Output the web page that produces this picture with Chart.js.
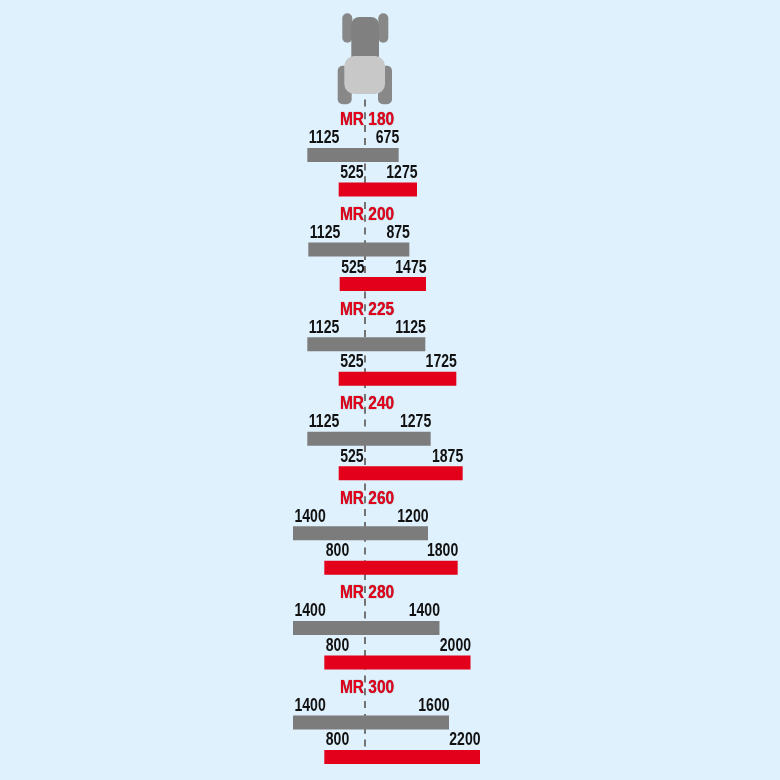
<!DOCTYPE html>
<html>
<head>
<meta charset="utf-8">
<style>
  html, body { margin: 0; padding: 0; background: #dff1fc; overflow: hidden; height: 780px; }
  #wrap { width: 780px; height: 787px; }
</style>
<script src="https://cdn.jsdelivr.net/npm/chart.js@4/dist/chart.umd.min.js"></script>
</head>
<body>
<div id="wrap"><canvas id="widths"></canvas></div>
<script>
const models = ['MR 180', 'MR 200', 'MR 225', 'MR 240', 'MR 260', 'MR 280', 'MR 300'];

// printed numbers
const grayLeftLabels = ['1125', '1125', '1125', '1125', '1400', '1400', '1400'];
const grayRightLabels = ['675', '875', '1125', '1275', '1200', '1400', '1600'];
const redLeftLabels = ['525', '525', '525', '525', '800', '800', '800'];
const redRightLabels = ['1275', '1475', '1725', '1875', '1800', '2000', '2200'];

// bar ends (mm from the centre line)
const grayLeft = [-1096, -1077, -1096, -1096, -1368, -1368, -1368];
const grayRight = [640, 842, 1146, 1248, 1197, 1415, 1596];
const redLeft = [-500, -481, -500, -500, -773, -773, -773];
const redRight = [988, 1159, 1735, 1856, 1761, 2005, 2185];

const GRAY = '#7c7c7c';
const RED = '#e2001a';
const TEXT_FONT = 'bold 18px "Liberation Sans"';

function roundBox(ctx, x, y, w, h, r, color) {
  ctx.fillStyle = color;
  ctx.beginPath();
  ctx.roundRect(x, y, w, h, r);
  ctx.fill();
}

// no condensed face installed, so squeeze the regular one
function narrowText(ctx, text, x, y, squeeze) {
  ctx.save();
  ctx.translate(x, y);
  ctx.scale(squeeze, 1);
  ctx.fillText(text, 0, 0);
  ctx.restore();
}

// tractor seen from above + centre line, under the bars
const tractorPlugin = {
  id: 'tractor',
  beforeDatasetsDraw(chart) {
    const ctx = chart.ctx;
    const cx = chart.scales.x.getPixelForValue(0);
    ctx.save();
    ctx.strokeStyle = '#737373';
    ctx.lineWidth = 2;
    ctx.setLineDash([7, 5.8]);
    ctx.beginPath();
    ctx.moveTo(cx, 99.5);
    ctx.lineTo(cx, 750);
    ctx.stroke();
    ctx.setLineDash([]);

    roundBox(ctx, cx - 22.7, 13.3, 10, 29.5, 5, '#888888');
    roundBox(ctx, cx + 13.3, 13.3, 10, 29.5, 5, '#888888');
    roundBox(ctx, cx - 13.7, 17, 27.7, 45, [8, 8, 0, 0], '#808080');
    roundBox(ctx, cx - 27.3, 65.7, 14, 38.5, 5, '#888888');
    roundBox(ctx, cx + 13, 65.7, 14, 38.5, 5, '#888888');
    roundBox(ctx, cx - 20.7, 56, 40.7, 38, 10, '#c8c8c8');
    ctx.restore();
  }
};

const labelPlugin = {
  id: 'barLabels',
  afterDatasetsDraw(chart) {
    const ctx = chart.ctx;
    const xs = chart.scales.x;
    ctx.save();
    ctx.textBaseline = 'middle';
    ctx.font = TEXT_FONT;

    function ends(datasetIndex, i, from, to, leftText, rightText) {
      const bar = chart.getDatasetMeta(datasetIndex).data[i];
      const y = bar.y - 16.5;
      ctx.fillStyle = '#111';
      ctx.textAlign = 'left';
      narrowText(ctx, leftText, xs.getPixelForValue(from) + 1.5, y, 0.78);
      ctx.textAlign = 'right';
      narrowText(ctx, rightText, xs.getPixelForValue(to) + 0.5, y, 0.78);
    }

    models.forEach(function (name, i) {
      ends(0, i, grayLeft[i], grayRight[i], grayLeftLabels[i], grayRightLabels[i]);
      ends(1, i, redLeft[i], redRight[i], redLeftLabels[i], redRightLabels[i]);

      const y = chart.getDatasetMeta(0).data[i].y - 34.5;
      ctx.textAlign = 'center';
      ctx.fillStyle = RED;
      ctx.shadowColor = 'rgba(60,0,0,0.7)';
      ctx.shadowBlur = 1;
      narrowText(ctx, name, xs.getPixelForValue(0) + 2, y, 0.86);
      ctx.shadowColor = 'transparent';
      ctx.shadowBlur = 0;
    });
    ctx.restore();
  }
};

const ctx = document.getElementById('widths').getContext('2d');
const widthsChart = new Chart(ctx, {
  type: 'bar',
  data: {
    labels: models,
    datasets: [{
      data: grayLeft.map((v, i) => [v, grayRight[i]]),
      backgroundColor: GRAY,
      borderWidth: 0
    },
    {
      data: redLeft.map((v, i) => [v, redRight[i]]),
      backgroundColor: RED,
      borderWidth: 0
    }]
  },
  options: {
    indexAxis: 'y',
    responsive: true,
    maintainAspectRatio: false,
    animation: false,
    categoryPercentage: 0.73,
    barPercentage: 0.406,
    layout: {
      padding: { top: 125 }
    },
    scales: {
      x: { type: 'linear', min: -6935, max: 7885, display: false },
      y: { display: false }
    },
    plugins: {
      legend: { display: false },
      tooltip: { enabled: false }
    }
  },
  plugins: [tractorPlugin, labelPlugin]
});
</script>
</body>
</html>
